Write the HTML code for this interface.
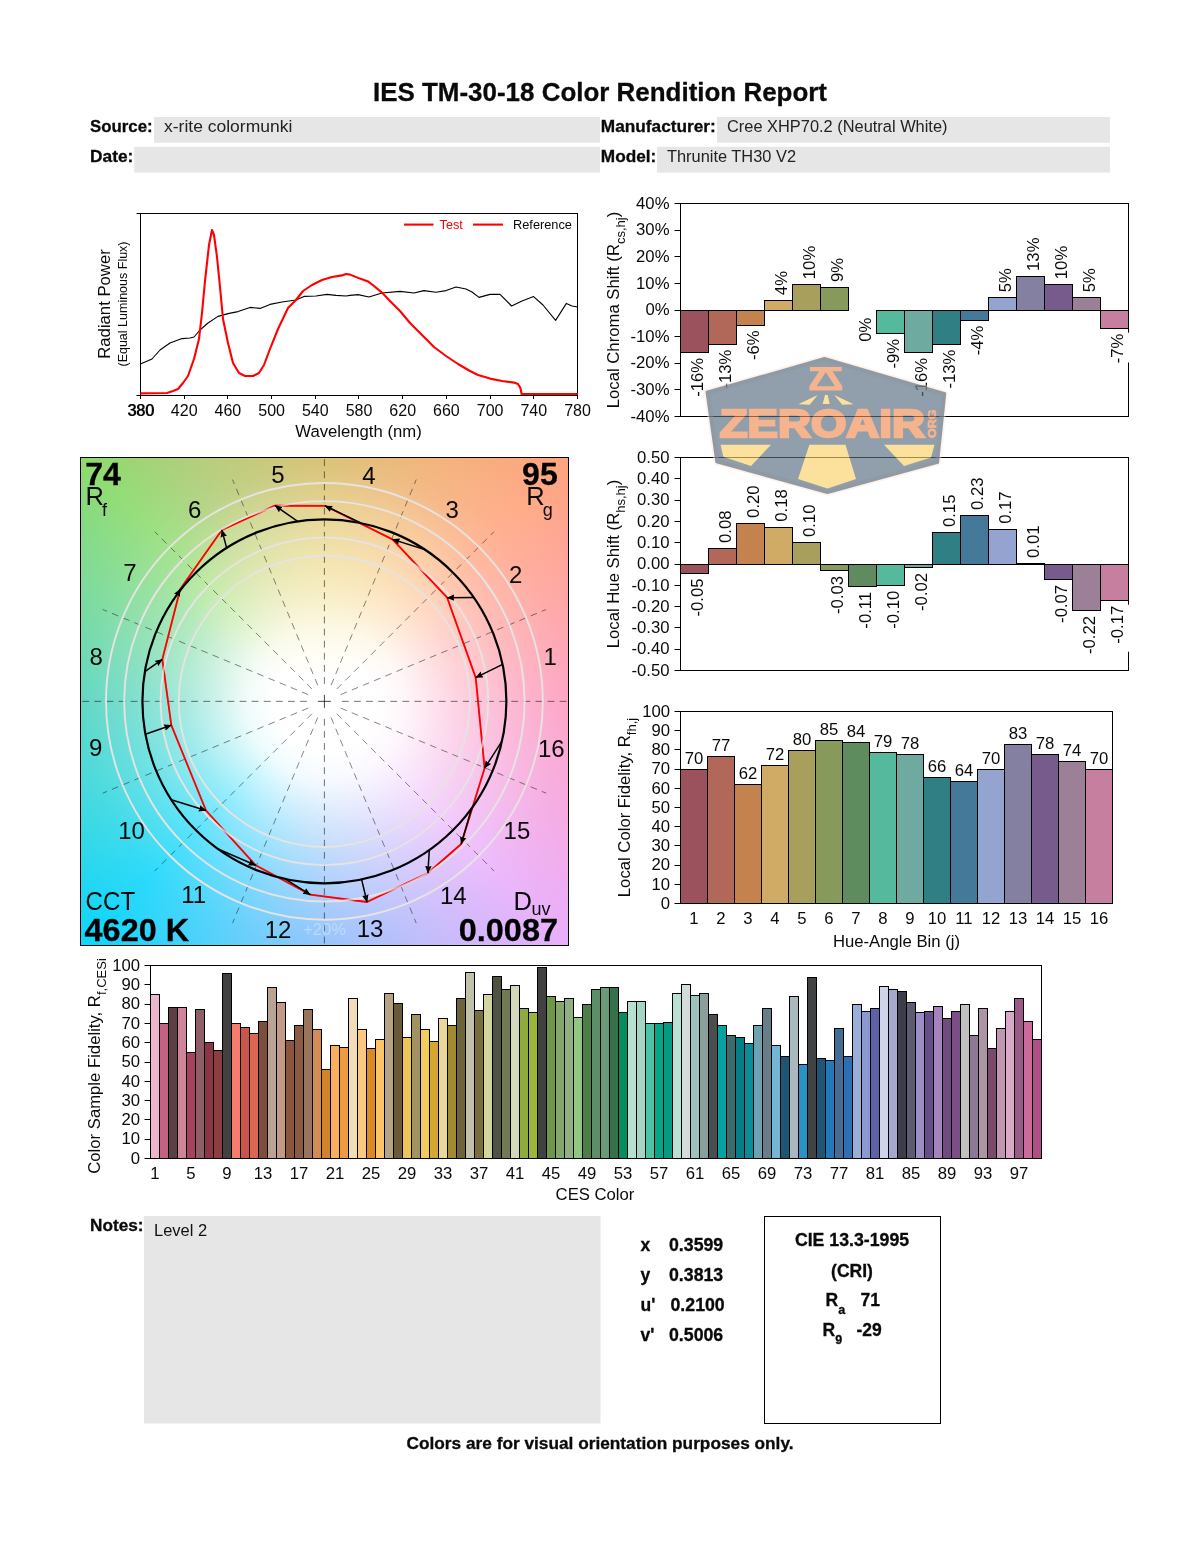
<!DOCTYPE html>
<html lang="en"><head><meta charset="utf-8"><title>IES TM-30-18 Color Rendition Report</title>
<style>html,body{margin:0;padding:0;background:#fff}#page{position:relative;width:1200px;height:1550px;overflow:hidden;background:#fff}
#cvgbg{position:absolute;left:80.5px;top:457.5px;width:488px;height:488px;
background:radial-gradient(ellipse 150px 105px at 50% 24%,rgba(255,242,170,.40) 0%,rgba(255,242,170,.26) 45%,rgba(255,240,160,0) 100%),
radial-gradient(circle 346px at 50% 50%,rgba(255,255,255,1) 0px,rgba(255,255,255,1) 50px,rgba(255,255,255,.92) 78px,rgba(255,255,255,.74) 105px,rgba(255,255,255,.55) 135px,rgba(255,255,255,.38) 168px,rgba(255,255,255,.24) 205px,rgba(255,255,255,.13) 244px,rgba(255,255,255,.04) 300px,rgba(255,255,255,0) 346px),
conic-gradient(from 0deg at 50% 50%,#d6ba63 0deg,#f2ad70 25deg,#ffa57f 45deg,#fe9d9e 68deg,#fd99be 90deg,#f4a3e0 115deg,#e9aefb 135deg,#b9b6fb 158deg,#88bcfa 180deg,#44ccfb 205deg,#0fd5fb 225deg,#2fd5db 248deg,#4bd2bc 270deg,#6dd795 293deg,#8ddb6f 315deg,#a6cd72 328deg,#bcc46c 342deg,#d6ba63 360deg)}
svg{position:absolute;left:0;top:0}svg text{font-family:"Liberation Sans", sans-serif}</style></head><body><div id="page"><div id="cvgbg"></div>
<svg width="1200" height="1550" viewBox="0 0 1200 1550">
<defs><marker id="ah" markerWidth="12" markerHeight="10" refX="7.2" refY="3.3" orient="auto" markerUnits="userSpaceOnUse"><path d="M0,0 L7.6,3.3 L0,6.6 L0.9,3.3 Z" fill="#000"/></marker></defs>
<text x="600.00" y="101.00" font-size="26" text-anchor="middle" font-weight="bold" stroke="#0a0a0a" stroke-width="0.3" textLength="454" lengthAdjust="spacingAndGlyphs" fill="#0a0a0a">IES TM-30-18 Color Rendition Report</text>
<rect x="154.00" y="117.00" width="446.00" height="25.75" fill="#e6e6e6"/>
<rect x="134.30" y="146.80" width="465.70" height="25.75" fill="#e6e6e6"/>
<rect x="717.00" y="117.00" width="393.00" height="25.75" fill="#e6e6e6"/>
<rect x="657.00" y="146.80" width="453.00" height="25.75" fill="#e6e6e6"/>
<text x="90.00" y="132.00" font-size="17.3" font-weight="bold" stroke="#0a0a0a" stroke-width="0.3" textLength="62.7" lengthAdjust="spacingAndGlyphs" fill="#0a0a0a">Source:</text>
<text x="90.00" y="162.00" font-size="17.3" font-weight="bold" stroke="#0a0a0a" stroke-width="0.3" textLength="43.3" lengthAdjust="spacingAndGlyphs" fill="#0a0a0a">Date:</text>
<text x="164.00" y="132.00" font-size="17" textLength="128.3" lengthAdjust="spacingAndGlyphs" fill="#222">x-rite colormunki</text>
<text x="600.80" y="132.00" font-size="17.3" font-weight="bold" stroke="#0a0a0a" stroke-width="0.3" textLength="115" lengthAdjust="spacingAndGlyphs" fill="#0a0a0a">Manufacturer:</text>
<text x="600.80" y="162.00" font-size="17.3" font-weight="bold" stroke="#0a0a0a" stroke-width="0.3" textLength="55.5" lengthAdjust="spacingAndGlyphs" fill="#0a0a0a">Model:</text>
<text x="727.00" y="132.00" font-size="16.8" textLength="220.5" lengthAdjust="spacingAndGlyphs" fill="#222">Cree XHP70.2 (Neutral White)</text>
<text x="667.00" y="162.00" font-size="16.8" textLength="129" lengthAdjust="spacingAndGlyphs" fill="#222">Thrunite TH30 V2</text>
<g id="spectrum">
<rect x="140.50" y="213.50" width="437.00" height="182.00" fill="#fff" stroke="#000" stroke-width="1"/>
<line x1="140.50" y1="395.50" x2="140.50" y2="399.00" stroke="#000" stroke-width="1"/>
<text x="140.50" y="415.60" font-size="16" text-anchor="middle" fill="#0a0a0a">380</text>
<line x1="184.50" y1="395.50" x2="184.50" y2="399.00" stroke="#000" stroke-width="1"/>
<text x="184.20" y="415.60" font-size="16" text-anchor="middle" fill="#0a0a0a">420</text>
<line x1="227.50" y1="395.50" x2="227.50" y2="399.00" stroke="#000" stroke-width="1"/>
<text x="227.90" y="415.60" font-size="16" text-anchor="middle" fill="#0a0a0a">460</text>
<line x1="271.50" y1="395.50" x2="271.50" y2="399.00" stroke="#000" stroke-width="1"/>
<text x="271.60" y="415.60" font-size="16" text-anchor="middle" fill="#0a0a0a">500</text>
<line x1="315.50" y1="395.50" x2="315.50" y2="399.00" stroke="#000" stroke-width="1"/>
<text x="315.30" y="415.60" font-size="16" text-anchor="middle" fill="#0a0a0a">540</text>
<line x1="358.50" y1="395.50" x2="358.50" y2="399.00" stroke="#000" stroke-width="1"/>
<text x="359.00" y="415.60" font-size="16" text-anchor="middle" fill="#0a0a0a">580</text>
<line x1="402.50" y1="395.50" x2="402.50" y2="399.00" stroke="#000" stroke-width="1"/>
<text x="402.70" y="415.60" font-size="16" text-anchor="middle" fill="#0a0a0a">620</text>
<line x1="446.50" y1="395.50" x2="446.50" y2="399.00" stroke="#000" stroke-width="1"/>
<text x="446.40" y="415.60" font-size="16" text-anchor="middle" fill="#0a0a0a">660</text>
<line x1="490.50" y1="395.50" x2="490.50" y2="399.00" stroke="#000" stroke-width="1"/>
<text x="490.10" y="415.60" font-size="16" text-anchor="middle" fill="#0a0a0a">700</text>
<line x1="533.50" y1="395.50" x2="533.50" y2="399.00" stroke="#000" stroke-width="1"/>
<text x="533.80" y="415.60" font-size="16" text-anchor="middle" fill="#0a0a0a">740</text>
<line x1="577.50" y1="395.50" x2="577.50" y2="399.00" stroke="#000" stroke-width="1"/>
<text x="577.50" y="415.60" font-size="16" text-anchor="middle" fill="#0a0a0a">780</text>
<text x="141.30" y="415.60" font-size="16" text-anchor="middle" fill="#0a0a0a">380</text>
<line x1="136.50" y1="213.50" x2="140.50" y2="213.50" stroke="#000" stroke-width="1"/>
<line x1="136.50" y1="395.50" x2="140.50" y2="395.50" stroke="#000" stroke-width="1"/>
<polyline points="140.4,364.0 152.0,359.0 160.0,350.0 170.0,343.0 182.0,338.6 190.0,338.0 194.0,337.0 200.0,330.0 208.0,323.0 218.0,316.4 228.0,313.6 238.0,311.6 250.0,307.4 260.0,308.4 270.0,304.4 282.0,302.0 296.0,300.0 304.0,296.4 316.0,296.0 327.0,294.4 336.0,295.4 346.0,296.0 350.0,295.4 358.0,294.6 369.0,297.0 382.0,293.0 400.0,291.4 414.0,293.0 424.0,290.6 436.0,292.2 446.0,290.6 456.0,287.0 466.0,289.0 472.0,292.0 479.0,297.4 490.0,294.4 500.0,294.4 511.6,306.0 522.0,301.0 533.6,296.6 543.0,305.0 555.6,320.4 566.4,303.4 572.0,306.0 577.6,307.0" fill="none" stroke="#000" stroke-width="1.1" stroke-linejoin="round"/>
<polyline points="140.4,393.4 167.0,393.0 173.0,391.0 178.0,389.0 183.0,383.0 188.0,376.0 194.0,359.0 199.0,339.0 202.0,313.0 205.0,281.0 209.0,245.0 212.0,230.0 214.0,235.0 217.0,257.0 220.0,287.0 223.0,319.0 228.0,343.0 233.0,363.0 239.0,373.0 245.0,376.0 253.0,376.0 259.0,373.0 264.0,365.0 270.0,349.0 278.0,329.0 288.0,308.0 296.0,300.0 303.0,291.0 312.0,285.0 322.0,280.0 332.0,277.0 342.0,275.4 346.0,274.0 350.0,274.6 360.0,278.6 368.0,281.4 374.0,286.0 382.0,292.6 390.0,301.0 400.0,311.0 410.0,323.0 420.0,333.0 434.0,347.0 446.0,356.0 458.0,364.0 470.0,371.0 478.0,375.0 490.0,378.6 502.0,381.0 514.0,382.6 518.0,384.0 520.4,388.0 521.6,394.0 577.6,394.0" fill="none" stroke="#f00" stroke-width="2.1" stroke-linejoin="round"/>
<line x1="404.00" y1="224.60" x2="433.50" y2="224.60" stroke="#f00" stroke-width="2.1"/>
<text x="439.50" y="228.90" font-size="12.1" textLength="23.4" lengthAdjust="spacingAndGlyphs" fill="#f00">Test</text>
<line x1="473.00" y1="224.60" x2="503.00" y2="224.60" stroke="#f00" stroke-width="2.1"/>
<text x="513.00" y="228.90" font-size="12.1" textLength="59" lengthAdjust="spacingAndGlyphs" fill="#0a0a0a">Reference</text>
<text transform="translate(109.60,304.00) rotate(-90)" font-size="16.7" text-anchor="middle" fill="#0a0a0a">Radiant Power</text>
<text transform="translate(127.10,304.00) rotate(-90)" font-size="12.5" text-anchor="middle" fill="#0a0a0a">(Equal Luminous Flux)</text>
<text x="358.50" y="436.60" font-size="16.7" text-anchor="middle" fill="#0a0a0a">Wavelength (nm)</text>
</g>
<g id="chroma">
<rect x="680.50" y="203.50" width="448.00" height="213.00" fill="#fff"/>
<rect x="680.50" y="203.50" width="448.00" height="213.00" fill="none" stroke="#000" stroke-width="1"/>
<rect x="688.00" y="356.83" width="22.50" height="38.40" fill="#fff"/>
<rect x="716.00" y="348.58" width="22.50" height="38.40" fill="#fff"/>
<rect x="744.00" y="329.41" width="22.50" height="29.80" fill="#fff"/>
<rect x="772.00" y="274.45" width="22.50" height="21.20" fill="#fff"/>
<rect x="800.00" y="249.87" width="22.50" height="29.80" fill="#fff"/>
<rect x="828.00" y="261.40" width="22.50" height="21.20" fill="#fff"/>
<rect x="856.00" y="314.50" width="22.50" height="21.20" fill="#fff"/>
<rect x="884.00" y="337.93" width="22.50" height="29.80" fill="#fff"/>
<rect x="912.00" y="356.83" width="22.50" height="38.40" fill="#fff"/>
<rect x="940.00" y="348.58" width="22.50" height="38.40" fill="#fff"/>
<rect x="968.00" y="324.62" width="22.50" height="29.80" fill="#fff"/>
<rect x="996.00" y="271.52" width="22.50" height="21.20" fill="#fff"/>
<rect x="1024.00" y="241.62" width="22.50" height="29.80" fill="#fff"/>
<rect x="1052.00" y="249.87" width="22.50" height="29.80" fill="#fff"/>
<rect x="1080.00" y="271.52" width="22.50" height="21.20" fill="#fff"/>
<rect x="1108.00" y="332.61" width="22.50" height="29.80" fill="#fff"/>
<rect x="680.50" y="310.50" width="28.00" height="42.00" fill="#9b525c" stroke="#000" stroke-width="1"/>
<rect x="708.50" y="310.50" width="28.00" height="34.00" fill="#b26858" stroke="#000" stroke-width="1"/>
<rect x="736.50" y="310.50" width="28.00" height="15.00" fill="#c4834e" stroke="#000" stroke-width="1"/>
<rect x="764.50" y="300.50" width="28.00" height="10.00" fill="#cfab66" stroke="#000" stroke-width="1"/>
<rect x="792.50" y="284.50" width="28.00" height="26.00" fill="#a89f5c" stroke="#000" stroke-width="1"/>
<rect x="820.50" y="287.50" width="28.00" height="23.00" fill="#879a5b" stroke="#000" stroke-width="1"/>
<rect x="876.50" y="310.50" width="28.00" height="23.00" fill="#55b99d" stroke="#000" stroke-width="1"/>
<rect x="904.50" y="310.50" width="28.00" height="42.00" fill="#6faaa0" stroke="#000" stroke-width="1"/>
<rect x="932.50" y="310.50" width="28.00" height="34.00" fill="#2f7f84" stroke="#000" stroke-width="1"/>
<rect x="960.50" y="310.50" width="28.00" height="10.00" fill="#44799a" stroke="#000" stroke-width="1"/>
<rect x="988.50" y="297.50" width="28.00" height="13.00" fill="#94a3cf" stroke="#000" stroke-width="1"/>
<rect x="1016.50" y="276.50" width="28.00" height="34.00" fill="#8480a2" stroke="#000" stroke-width="1"/>
<rect x="1044.50" y="284.50" width="28.00" height="26.00" fill="#775b8c" stroke="#000" stroke-width="1"/>
<rect x="1072.50" y="297.50" width="28.00" height="13.00" fill="#9b8097" stroke="#000" stroke-width="1"/>
<rect x="1100.50" y="310.50" width="28.00" height="18.00" fill="#c67f9e" stroke="#000" stroke-width="1"/>
<line x1="674.50" y1="203.50" x2="680.50" y2="203.50" stroke="#000" stroke-width="1"/>
<text x="669.50" y="208.70" font-size="16.7" text-anchor="end" fill="#0a0a0a">40%</text>
<line x1="674.50" y1="230.50" x2="680.50" y2="230.50" stroke="#000" stroke-width="1"/>
<text x="669.50" y="235.32" font-size="16.7" text-anchor="end" fill="#0a0a0a">30%</text>
<line x1="674.50" y1="256.50" x2="680.50" y2="256.50" stroke="#000" stroke-width="1"/>
<text x="669.50" y="261.95" font-size="16.7" text-anchor="end" fill="#0a0a0a">20%</text>
<line x1="674.50" y1="283.50" x2="680.50" y2="283.50" stroke="#000" stroke-width="1"/>
<text x="669.50" y="288.57" font-size="16.7" text-anchor="end" fill="#0a0a0a">10%</text>
<line x1="674.50" y1="310.50" x2="680.50" y2="310.50" stroke="#000" stroke-width="1"/>
<text x="669.50" y="315.20" font-size="16.7" text-anchor="end" fill="#0a0a0a">0%</text>
<line x1="674.50" y1="336.50" x2="680.50" y2="336.50" stroke="#000" stroke-width="1"/>
<text x="669.50" y="341.82" font-size="16.7" text-anchor="end" fill="#0a0a0a">-10%</text>
<line x1="674.50" y1="363.50" x2="680.50" y2="363.50" stroke="#000" stroke-width="1"/>
<text x="669.50" y="368.45" font-size="16.7" text-anchor="end" fill="#0a0a0a">-20%</text>
<line x1="674.50" y1="389.50" x2="680.50" y2="389.50" stroke="#000" stroke-width="1"/>
<text x="669.50" y="395.07" font-size="16.7" text-anchor="end" fill="#0a0a0a">-30%</text>
<line x1="674.50" y1="416.50" x2="680.50" y2="416.50" stroke="#000" stroke-width="1"/>
<text x="669.50" y="421.70" font-size="16.7" text-anchor="end" fill="#0a0a0a">-40%</text>
<text transform="translate(703.25,357.83) rotate(-90)" font-size="16.7" text-anchor="end" fill="#0a0a0a">-16%</text>
<text transform="translate(731.25,349.58) rotate(-90)" font-size="16.7" text-anchor="end" fill="#0a0a0a">-13%</text>
<text transform="translate(759.25,330.41) rotate(-90)" font-size="16.7" text-anchor="end" fill="#0a0a0a">-6%</text>
<text transform="translate(787.25,295.15) rotate(-90)" font-size="16.7" fill="#0a0a0a">4%</text>
<text transform="translate(815.25,279.17) rotate(-90)" font-size="16.7" fill="#0a0a0a">10%</text>
<text transform="translate(843.25,282.10) rotate(-90)" font-size="16.7" fill="#0a0a0a">9%</text>
<text transform="translate(871.25,317.70) rotate(-90)" font-size="16.7" text-anchor="end" fill="#0a0a0a">0%</text>
<text transform="translate(899.25,338.93) rotate(-90)" font-size="16.7" text-anchor="end" fill="#0a0a0a">-9%</text>
<text transform="translate(927.25,357.83) rotate(-90)" font-size="16.7" text-anchor="end" fill="#0a0a0a">-16%</text>
<text transform="translate(955.25,349.58) rotate(-90)" font-size="16.7" text-anchor="end" fill="#0a0a0a">-13%</text>
<text transform="translate(983.25,325.62) rotate(-90)" font-size="16.7" text-anchor="end" fill="#0a0a0a">-4%</text>
<text transform="translate(1011.25,292.22) rotate(-90)" font-size="16.7" fill="#0a0a0a">5%</text>
<text transform="translate(1039.25,270.92) rotate(-90)" font-size="16.7" fill="#0a0a0a">13%</text>
<text transform="translate(1067.25,279.17) rotate(-90)" font-size="16.7" fill="#0a0a0a">10%</text>
<text transform="translate(1095.25,292.22) rotate(-90)" font-size="16.7" fill="#0a0a0a">5%</text>
<text transform="translate(1123.25,333.61) rotate(-90)" font-size="16.7" text-anchor="end" fill="#0a0a0a">-7%</text>
<text transform="translate(618.70,310.00) rotate(-90)" font-size="16.7" text-anchor="middle" fill="#0a0a0a">Local Chroma Shift (R<tspan font-size="13" dy="6.3">cs,hj</tspan><tspan dy="-6.3">)</tspan></text>
</g>
<g id="hueshift">
<rect x="680.50" y="457.50" width="448.00" height="213.00" fill="#fff"/>
<rect x="680.50" y="457.50" width="448.00" height="213.00" fill="none" stroke="#000" stroke-width="1"/>
<rect x="688.00" y="577.45" width="22.50" height="47.00" fill="#fff"/>
<rect x="716.00" y="505.12" width="22.50" height="38.40" fill="#fff"/>
<rect x="744.00" y="479.99" width="22.50" height="38.40" fill="#fff"/>
<rect x="772.00" y="483.83" width="22.50" height="38.40" fill="#fff"/>
<rect x="800.00" y="499.16" width="22.50" height="38.40" fill="#fff"/>
<rect x="828.00" y="574.89" width="22.50" height="47.00" fill="#fff"/>
<rect x="856.00" y="590.87" width="22.50" height="47.00" fill="#fff"/>
<rect x="884.00" y="589.80" width="22.50" height="47.00" fill="#fff"/>
<rect x="912.00" y="571.91" width="22.50" height="47.00" fill="#fff"/>
<rect x="940.00" y="489.15" width="22.50" height="38.40" fill="#fff"/>
<rect x="968.00" y="472.11" width="22.50" height="38.40" fill="#fff"/>
<rect x="996.00" y="485.96" width="22.50" height="38.40" fill="#fff"/>
<rect x="1024.00" y="520.03" width="22.50" height="38.40" fill="#fff"/>
<rect x="1052.00" y="583.84" width="22.50" height="47.00" fill="#fff"/>
<rect x="1080.00" y="614.93" width="22.50" height="47.00" fill="#fff"/>
<rect x="1108.00" y="604.71" width="22.50" height="47.00" fill="#fff"/>
<rect x="680.50" y="564.50" width="28.00" height="9.00" fill="#9b525c" stroke="#000" stroke-width="1"/>
<rect x="708.50" y="548.50" width="28.00" height="16.00" fill="#b26858" stroke="#000" stroke-width="1"/>
<rect x="736.50" y="523.50" width="28.00" height="41.00" fill="#c4834e" stroke="#000" stroke-width="1"/>
<rect x="764.50" y="527.50" width="28.00" height="37.00" fill="#cfab66" stroke="#000" stroke-width="1"/>
<rect x="792.50" y="542.50" width="28.00" height="22.00" fill="#a89f5c" stroke="#000" stroke-width="1"/>
<rect x="820.50" y="564.50" width="28.00" height="6.00" fill="#879a5b" stroke="#000" stroke-width="1"/>
<rect x="848.50" y="564.50" width="28.00" height="22.00" fill="#5f8c5f" stroke="#000" stroke-width="1"/>
<rect x="876.50" y="564.50" width="28.00" height="21.00" fill="#55b99d" stroke="#000" stroke-width="1"/>
<rect x="904.50" y="564.50" width="28.00" height="3.00" fill="#6faaa0" stroke="#000" stroke-width="1"/>
<rect x="932.50" y="532.50" width="28.00" height="32.00" fill="#2f7f84" stroke="#000" stroke-width="1"/>
<rect x="960.50" y="515.50" width="28.00" height="49.00" fill="#44799a" stroke="#000" stroke-width="1"/>
<rect x="988.50" y="529.50" width="28.00" height="35.00" fill="#94a3cf" stroke="#000" stroke-width="1"/>
<rect x="1016.50" y="563.50" width="28.00" height="1.00" fill="#8480a2" stroke="#000" stroke-width="1"/>
<rect x="1044.50" y="564.50" width="28.00" height="15.00" fill="#775b8c" stroke="#000" stroke-width="1"/>
<rect x="1072.50" y="564.50" width="28.00" height="46.00" fill="#9b8097" stroke="#000" stroke-width="1"/>
<rect x="1100.50" y="564.50" width="28.00" height="36.00" fill="#c67f9e" stroke="#000" stroke-width="1"/>
<line x1="674.50" y1="457.50" x2="680.50" y2="457.50" stroke="#000" stroke-width="1"/>
<text x="669.50" y="462.70" font-size="16.7" text-anchor="end" fill="#0a0a0a">0.50</text>
<line x1="674.50" y1="478.50" x2="680.50" y2="478.50" stroke="#000" stroke-width="1"/>
<text x="669.50" y="484.00" font-size="16.7" text-anchor="end" fill="#0a0a0a">0.40</text>
<line x1="674.50" y1="500.50" x2="680.50" y2="500.50" stroke="#000" stroke-width="1"/>
<text x="669.50" y="505.30" font-size="16.7" text-anchor="end" fill="#0a0a0a">0.30</text>
<line x1="674.50" y1="521.50" x2="680.50" y2="521.50" stroke="#000" stroke-width="1"/>
<text x="669.50" y="526.60" font-size="16.7" text-anchor="end" fill="#0a0a0a">0.20</text>
<line x1="674.50" y1="542.50" x2="680.50" y2="542.50" stroke="#000" stroke-width="1"/>
<text x="669.50" y="547.90" font-size="16.7" text-anchor="end" fill="#0a0a0a">0.10</text>
<line x1="674.50" y1="564.50" x2="680.50" y2="564.50" stroke="#000" stroke-width="1"/>
<text x="669.50" y="569.20" font-size="16.7" text-anchor="end" fill="#0a0a0a">0.00</text>
<line x1="674.50" y1="585.50" x2="680.50" y2="585.50" stroke="#000" stroke-width="1"/>
<text x="669.50" y="590.50" font-size="16.7" text-anchor="end" fill="#0a0a0a">-0.10</text>
<line x1="674.50" y1="606.50" x2="680.50" y2="606.50" stroke="#000" stroke-width="1"/>
<text x="669.50" y="611.80" font-size="16.7" text-anchor="end" fill="#0a0a0a">-0.20</text>
<line x1="674.50" y1="627.50" x2="680.50" y2="627.50" stroke="#000" stroke-width="1"/>
<text x="669.50" y="633.10" font-size="16.7" text-anchor="end" fill="#0a0a0a">-0.30</text>
<line x1="674.50" y1="649.50" x2="680.50" y2="649.50" stroke="#000" stroke-width="1"/>
<text x="669.50" y="654.40" font-size="16.7" text-anchor="end" fill="#0a0a0a">-0.40</text>
<line x1="674.50" y1="670.50" x2="680.50" y2="670.50" stroke="#000" stroke-width="1"/>
<text x="669.50" y="675.70" font-size="16.7" text-anchor="end" fill="#0a0a0a">-0.50</text>
<text transform="translate(703.25,578.45) rotate(-90)" font-size="16.7" text-anchor="end" fill="#0a0a0a">-0.05</text>
<text transform="translate(731.25,543.02) rotate(-90)" font-size="16.7" fill="#0a0a0a">0.08</text>
<text transform="translate(759.25,517.89) rotate(-90)" font-size="16.7" fill="#0a0a0a">0.20</text>
<text transform="translate(787.25,521.73) rotate(-90)" font-size="16.7" fill="#0a0a0a">0.18</text>
<text transform="translate(815.25,537.06) rotate(-90)" font-size="16.7" fill="#0a0a0a">0.10</text>
<text transform="translate(843.25,575.89) rotate(-90)" font-size="16.7" text-anchor="end" fill="#0a0a0a">-0.03</text>
<text transform="translate(871.25,591.87) rotate(-90)" font-size="16.7" text-anchor="end" fill="#0a0a0a">-0.11</text>
<text transform="translate(899.25,590.80) rotate(-90)" font-size="16.7" text-anchor="end" fill="#0a0a0a">-0.10</text>
<text transform="translate(927.25,572.91) rotate(-90)" font-size="16.7" text-anchor="end" fill="#0a0a0a">-0.02</text>
<text transform="translate(955.25,527.05) rotate(-90)" font-size="16.7" fill="#0a0a0a">0.15</text>
<text transform="translate(983.25,510.01) rotate(-90)" font-size="16.7" fill="#0a0a0a">0.23</text>
<text transform="translate(1011.25,523.86) rotate(-90)" font-size="16.7" fill="#0a0a0a">0.17</text>
<text transform="translate(1039.25,557.93) rotate(-90)" font-size="16.7" fill="#0a0a0a">0.01</text>
<text transform="translate(1067.25,584.84) rotate(-90)" font-size="16.7" text-anchor="end" fill="#0a0a0a">-0.07</text>
<text transform="translate(1095.25,615.93) rotate(-90)" font-size="16.7" text-anchor="end" fill="#0a0a0a">-0.22</text>
<text transform="translate(1123.25,605.71) rotate(-90)" font-size="16.7" text-anchor="end" fill="#0a0a0a">-0.17</text>
<text transform="translate(618.70,564.00) rotate(-90)" font-size="16.7" text-anchor="middle" fill="#0a0a0a">Local Hue Shift (R<tspan font-size="13" dy="6.3">hs,hj</tspan><tspan dy="-6.3">)</tspan></text>
</g>
<g id="fid">
<rect x="680.50" y="769.50" width="27.00" height="134.00" fill="#9b525c" stroke="#000" stroke-width="1"/>
<text x="694.00" y="764.00" font-size="16.7" text-anchor="middle" fill="#0a0a0a">70</text>
<text x="694.00" y="924.20" font-size="16.7" text-anchor="middle" fill="#0a0a0a">1</text>
<rect x="707.50" y="756.50" width="27.00" height="147.00" fill="#b26858" stroke="#000" stroke-width="1"/>
<text x="721.00" y="751.00" font-size="16.7" text-anchor="middle" fill="#0a0a0a">77</text>
<text x="721.00" y="924.20" font-size="16.7" text-anchor="middle" fill="#0a0a0a">2</text>
<rect x="734.50" y="784.50" width="27.00" height="119.00" fill="#c4834e" stroke="#000" stroke-width="1"/>
<text x="748.00" y="779.00" font-size="16.7" text-anchor="middle" fill="#0a0a0a">62</text>
<text x="748.00" y="924.20" font-size="16.7" text-anchor="middle" fill="#0a0a0a">3</text>
<rect x="761.50" y="765.50" width="27.00" height="138.00" fill="#cfab66" stroke="#000" stroke-width="1"/>
<text x="775.00" y="760.00" font-size="16.7" text-anchor="middle" fill="#0a0a0a">72</text>
<text x="775.00" y="924.20" font-size="16.7" text-anchor="middle" fill="#0a0a0a">4</text>
<rect x="788.50" y="750.50" width="27.00" height="153.00" fill="#a89f5c" stroke="#000" stroke-width="1"/>
<text x="802.00" y="745.00" font-size="16.7" text-anchor="middle" fill="#0a0a0a">80</text>
<text x="802.00" y="924.20" font-size="16.7" text-anchor="middle" fill="#0a0a0a">5</text>
<rect x="815.50" y="740.50" width="27.00" height="163.00" fill="#879a5b" stroke="#000" stroke-width="1"/>
<text x="829.00" y="735.00" font-size="16.7" text-anchor="middle" fill="#0a0a0a">85</text>
<text x="829.00" y="924.20" font-size="16.7" text-anchor="middle" fill="#0a0a0a">6</text>
<rect x="842.50" y="742.50" width="27.00" height="161.00" fill="#5f8c5f" stroke="#000" stroke-width="1"/>
<text x="856.00" y="737.00" font-size="16.7" text-anchor="middle" fill="#0a0a0a">84</text>
<text x="856.00" y="924.20" font-size="16.7" text-anchor="middle" fill="#0a0a0a">7</text>
<rect x="869.50" y="752.50" width="27.00" height="151.00" fill="#55b99d" stroke="#000" stroke-width="1"/>
<text x="883.00" y="747.00" font-size="16.7" text-anchor="middle" fill="#0a0a0a">79</text>
<text x="883.00" y="924.20" font-size="16.7" text-anchor="middle" fill="#0a0a0a">8</text>
<rect x="896.50" y="754.50" width="27.00" height="149.00" fill="#6faaa0" stroke="#000" stroke-width="1"/>
<text x="910.00" y="749.00" font-size="16.7" text-anchor="middle" fill="#0a0a0a">78</text>
<text x="910.00" y="924.20" font-size="16.7" text-anchor="middle" fill="#0a0a0a">9</text>
<rect x="923.50" y="777.50" width="27.00" height="126.00" fill="#2f7f84" stroke="#000" stroke-width="1"/>
<text x="937.00" y="772.00" font-size="16.7" text-anchor="middle" fill="#0a0a0a">66</text>
<text x="937.00" y="924.20" font-size="16.7" text-anchor="middle" fill="#0a0a0a">10</text>
<rect x="950.50" y="781.50" width="27.00" height="122.00" fill="#44799a" stroke="#000" stroke-width="1"/>
<text x="964.00" y="776.00" font-size="16.7" text-anchor="middle" fill="#0a0a0a">64</text>
<text x="964.00" y="924.20" font-size="16.7" text-anchor="middle" fill="#0a0a0a">11</text>
<rect x="977.50" y="769.50" width="27.00" height="134.00" fill="#94a3cf" stroke="#000" stroke-width="1"/>
<text x="991.00" y="764.00" font-size="16.7" text-anchor="middle" fill="#0a0a0a">70</text>
<text x="991.00" y="924.20" font-size="16.7" text-anchor="middle" fill="#0a0a0a">12</text>
<rect x="1004.50" y="744.50" width="27.00" height="159.00" fill="#8480a2" stroke="#000" stroke-width="1"/>
<text x="1018.00" y="739.00" font-size="16.7" text-anchor="middle" fill="#0a0a0a">83</text>
<text x="1018.00" y="924.20" font-size="16.7" text-anchor="middle" fill="#0a0a0a">13</text>
<rect x="1031.50" y="754.50" width="27.00" height="149.00" fill="#775b8c" stroke="#000" stroke-width="1"/>
<text x="1045.00" y="749.00" font-size="16.7" text-anchor="middle" fill="#0a0a0a">78</text>
<text x="1045.00" y="924.20" font-size="16.7" text-anchor="middle" fill="#0a0a0a">14</text>
<rect x="1058.50" y="761.50" width="27.00" height="142.00" fill="#9b8097" stroke="#000" stroke-width="1"/>
<text x="1072.00" y="756.00" font-size="16.7" text-anchor="middle" fill="#0a0a0a">74</text>
<text x="1072.00" y="924.20" font-size="16.7" text-anchor="middle" fill="#0a0a0a">15</text>
<rect x="1085.50" y="769.50" width="27.00" height="134.00" fill="#c67f9e" stroke="#000" stroke-width="1"/>
<text x="1099.00" y="764.00" font-size="16.7" text-anchor="middle" fill="#0a0a0a">70</text>
<text x="1099.00" y="924.20" font-size="16.7" text-anchor="middle" fill="#0a0a0a">16</text>
<rect x="680.50" y="711.50" width="432.00" height="192.00" fill="none" stroke="#000" stroke-width="1"/>
<line x1="674.50" y1="903.50" x2="680.50" y2="903.50" stroke="#000" stroke-width="1"/>
<text x="670.00" y="908.70" font-size="16.7" text-anchor="end" fill="#0a0a0a">0</text>
<line x1="674.50" y1="884.50" x2="680.50" y2="884.50" stroke="#000" stroke-width="1"/>
<text x="670.00" y="889.50" font-size="16.7" text-anchor="end" fill="#0a0a0a">10</text>
<line x1="674.50" y1="865.50" x2="680.50" y2="865.50" stroke="#000" stroke-width="1"/>
<text x="670.00" y="870.30" font-size="16.7" text-anchor="end" fill="#0a0a0a">20</text>
<line x1="674.50" y1="845.50" x2="680.50" y2="845.50" stroke="#000" stroke-width="1"/>
<text x="670.00" y="851.10" font-size="16.7" text-anchor="end" fill="#0a0a0a">30</text>
<line x1="674.50" y1="826.50" x2="680.50" y2="826.50" stroke="#000" stroke-width="1"/>
<text x="670.00" y="831.90" font-size="16.7" text-anchor="end" fill="#0a0a0a">40</text>
<line x1="674.50" y1="807.50" x2="680.50" y2="807.50" stroke="#000" stroke-width="1"/>
<text x="670.00" y="812.70" font-size="16.7" text-anchor="end" fill="#0a0a0a">50</text>
<line x1="674.50" y1="788.50" x2="680.50" y2="788.50" stroke="#000" stroke-width="1"/>
<text x="670.00" y="793.50" font-size="16.7" text-anchor="end" fill="#0a0a0a">60</text>
<line x1="674.50" y1="769.50" x2="680.50" y2="769.50" stroke="#000" stroke-width="1"/>
<text x="670.00" y="774.30" font-size="16.7" text-anchor="end" fill="#0a0a0a">70</text>
<line x1="674.50" y1="749.50" x2="680.50" y2="749.50" stroke="#000" stroke-width="1"/>
<text x="670.00" y="755.10" font-size="16.7" text-anchor="end" fill="#0a0a0a">80</text>
<line x1="674.50" y1="730.50" x2="680.50" y2="730.50" stroke="#000" stroke-width="1"/>
<text x="670.00" y="735.90" font-size="16.7" text-anchor="end" fill="#0a0a0a">90</text>
<line x1="674.50" y1="711.50" x2="680.50" y2="711.50" stroke="#000" stroke-width="1"/>
<text x="670.00" y="716.70" font-size="16.7" text-anchor="end" fill="#0a0a0a">100</text>
<text transform="translate(630.00,807.50) rotate(-90)" font-size="16.7" text-anchor="middle" fill="#0a0a0a">Local Color Fidelity, R<tspan font-size="13" dy="6.3">fh,j</tspan></text>
<text x="896.50" y="946.50" font-size="16.7" text-anchor="middle" fill="#0a0a0a">Hue-Angle Bin (j)</text>
</g>
<g id="ces">
<rect x="150.50" y="994.50" width="9.00" height="164.00" fill="#ebb5cc" stroke="#000" stroke-width="1"/>
<text x="155.00" y="1178.70" font-size="16.7" text-anchor="middle" fill="#0a0a0a">1</text>
<rect x="159.50" y="1023.50" width="9.00" height="135.00" fill="#c46283" stroke="#000" stroke-width="1"/>
<rect x="168.50" y="1007.50" width="9.00" height="151.00" fill="#5b3f44" stroke="#000" stroke-width="1"/>
<rect x="177.50" y="1007.50" width="9.00" height="151.00" fill="#d0849a" stroke="#000" stroke-width="1"/>
<rect x="186.50" y="1052.50" width="9.00" height="106.00" fill="#a8425e" stroke="#000" stroke-width="1"/>
<text x="191.00" y="1178.70" font-size="16.7" text-anchor="middle" fill="#0a0a0a">5</text>
<rect x="195.50" y="1009.50" width="9.00" height="149.00" fill="#8f5f68" stroke="#000" stroke-width="1"/>
<rect x="204.50" y="1042.50" width="9.00" height="116.00" fill="#8c3545" stroke="#000" stroke-width="1"/>
<rect x="213.50" y="1050.50" width="9.00" height="108.00" fill="#8b3d42" stroke="#000" stroke-width="1"/>
<rect x="222.50" y="973.50" width="9.00" height="185.00" fill="#414141" stroke="#000" stroke-width="1"/>
<text x="227.00" y="1178.70" font-size="16.7" text-anchor="middle" fill="#0a0a0a">9</text>
<rect x="231.50" y="1023.50" width="9.00" height="135.00" fill="#f47d70" stroke="#000" stroke-width="1"/>
<rect x="240.50" y="1027.50" width="9.00" height="131.00" fill="#c9564a" stroke="#000" stroke-width="1"/>
<rect x="249.50" y="1033.50" width="9.00" height="125.00" fill="#dd6650" stroke="#000" stroke-width="1"/>
<rect x="258.50" y="1021.50" width="9.00" height="137.00" fill="#7e4e3c" stroke="#000" stroke-width="1"/>
<text x="263.00" y="1178.70" font-size="16.7" text-anchor="middle" fill="#0a0a0a">13</text>
<rect x="267.50" y="987.50" width="9.00" height="171.00" fill="#b9a394" stroke="#000" stroke-width="1"/>
<rect x="276.50" y="1002.50" width="9.00" height="156.00" fill="#c49a85" stroke="#000" stroke-width="1"/>
<rect x="285.50" y="1040.50" width="9.00" height="118.00" fill="#8c563c" stroke="#000" stroke-width="1"/>
<rect x="294.50" y="1025.50" width="9.00" height="133.00" fill="#8b5b41" stroke="#000" stroke-width="1"/>
<text x="299.00" y="1178.70" font-size="16.7" text-anchor="middle" fill="#0a0a0a">17</text>
<rect x="303.50" y="1009.50" width="9.00" height="149.00" fill="#9b745c" stroke="#000" stroke-width="1"/>
<rect x="312.50" y="1029.50" width="9.00" height="129.00" fill="#d58c54" stroke="#000" stroke-width="1"/>
<rect x="321.50" y="1069.50" width="9.00" height="89.00" fill="#cf832b" stroke="#000" stroke-width="1"/>
<rect x="330.50" y="1045.50" width="9.00" height="113.00" fill="#fbae5e" stroke="#000" stroke-width="1"/>
<text x="335.00" y="1178.70" font-size="16.7" text-anchor="middle" fill="#0a0a0a">21</text>
<rect x="339.50" y="1047.50" width="9.00" height="111.00" fill="#ee9c43" stroke="#000" stroke-width="1"/>
<rect x="348.50" y="998.50" width="9.00" height="160.00" fill="#f3dcb8" stroke="#000" stroke-width="1"/>
<rect x="357.50" y="1029.50" width="9.00" height="129.00" fill="#fdc980" stroke="#000" stroke-width="1"/>
<rect x="366.50" y="1048.50" width="9.00" height="110.00" fill="#d98a25" stroke="#000" stroke-width="1"/>
<text x="371.00" y="1178.70" font-size="16.7" text-anchor="middle" fill="#0a0a0a">25</text>
<rect x="375.50" y="1039.50" width="9.00" height="119.00" fill="#fdc468" stroke="#000" stroke-width="1"/>
<rect x="384.50" y="993.50" width="9.00" height="165.00" fill="#b5a481" stroke="#000" stroke-width="1"/>
<rect x="393.50" y="1003.50" width="9.00" height="155.00" fill="#6b5a3a" stroke="#000" stroke-width="1"/>
<rect x="402.50" y="1037.50" width="9.00" height="121.00" fill="#efc558" stroke="#000" stroke-width="1"/>
<text x="407.00" y="1178.70" font-size="16.7" text-anchor="middle" fill="#0a0a0a">29</text>
<rect x="411.50" y="1014.50" width="9.00" height="144.00" fill="#a39261" stroke="#000" stroke-width="1"/>
<rect x="420.50" y="1029.50" width="9.00" height="129.00" fill="#f1cd5f" stroke="#000" stroke-width="1"/>
<rect x="429.50" y="1041.50" width="9.00" height="117.00" fill="#d3a731" stroke="#000" stroke-width="1"/>
<rect x="438.50" y="1018.50" width="9.00" height="140.00" fill="#e8d798" stroke="#000" stroke-width="1"/>
<text x="443.00" y="1178.70" font-size="16.7" text-anchor="middle" fill="#0a0a0a">33</text>
<rect x="447.50" y="1025.50" width="9.00" height="133.00" fill="#a28a2e" stroke="#000" stroke-width="1"/>
<rect x="456.50" y="998.50" width="9.00" height="160.00" fill="#6d6239" stroke="#000" stroke-width="1"/>
<rect x="465.50" y="972.50" width="9.00" height="186.00" fill="#c2c2ab" stroke="#000" stroke-width="1"/>
<rect x="474.50" y="1010.50" width="9.00" height="148.00" fill="#7a6f3c" stroke="#000" stroke-width="1"/>
<text x="479.00" y="1178.70" font-size="16.7" text-anchor="middle" fill="#0a0a0a">37</text>
<rect x="483.50" y="994.50" width="9.00" height="164.00" fill="#d3d59f" stroke="#000" stroke-width="1"/>
<rect x="492.50" y="976.50" width="9.00" height="182.00" fill="#4f5241" stroke="#000" stroke-width="1"/>
<rect x="501.50" y="989.50" width="9.00" height="169.00" fill="#717a53" stroke="#000" stroke-width="1"/>
<rect x="510.50" y="985.50" width="9.00" height="173.00" fill="#d3d8bd" stroke="#000" stroke-width="1"/>
<text x="515.00" y="1178.70" font-size="16.7" text-anchor="middle" fill="#0a0a0a">41</text>
<rect x="519.50" y="1008.50" width="9.00" height="150.00" fill="#90ab3d" stroke="#000" stroke-width="1"/>
<rect x="528.50" y="1012.50" width="9.00" height="146.00" fill="#9bb638" stroke="#000" stroke-width="1"/>
<rect x="537.50" y="967.50" width="9.00" height="191.00" fill="#414141" stroke="#000" stroke-width="1"/>
<rect x="546.50" y="996.50" width="9.00" height="162.00" fill="#6e9748" stroke="#000" stroke-width="1"/>
<text x="551.00" y="1178.70" font-size="16.7" text-anchor="middle" fill="#0a0a0a">45</text>
<rect x="555.50" y="1001.50" width="9.00" height="157.00" fill="#84a86b" stroke="#000" stroke-width="1"/>
<rect x="564.50" y="998.50" width="9.00" height="160.00" fill="#90b083" stroke="#000" stroke-width="1"/>
<rect x="573.50" y="1017.50" width="9.00" height="141.00" fill="#90c883" stroke="#000" stroke-width="1"/>
<rect x="582.50" y="1004.50" width="9.00" height="154.00" fill="#4c7f47" stroke="#000" stroke-width="1"/>
<text x="587.00" y="1178.70" font-size="16.7" text-anchor="middle" fill="#0a0a0a">49</text>
<rect x="591.50" y="989.50" width="9.00" height="169.00" fill="#5a8f68" stroke="#000" stroke-width="1"/>
<rect x="600.50" y="987.50" width="9.00" height="171.00" fill="#6a9a78" stroke="#000" stroke-width="1"/>
<rect x="609.50" y="987.50" width="9.00" height="171.00" fill="#35714a" stroke="#000" stroke-width="1"/>
<rect x="618.50" y="1012.50" width="9.00" height="146.00" fill="#068d5f" stroke="#000" stroke-width="1"/>
<text x="623.00" y="1178.70" font-size="16.7" text-anchor="middle" fill="#0a0a0a">53</text>
<rect x="627.50" y="1001.50" width="9.00" height="157.00" fill="#b6e0cf" stroke="#000" stroke-width="1"/>
<rect x="636.50" y="1001.50" width="9.00" height="157.00" fill="#a6d5c3" stroke="#000" stroke-width="1"/>
<rect x="645.50" y="1023.50" width="9.00" height="135.00" fill="#4cc3a7" stroke="#000" stroke-width="1"/>
<rect x="654.50" y="1023.50" width="9.00" height="135.00" fill="#05a585" stroke="#000" stroke-width="1"/>
<text x="659.00" y="1178.70" font-size="16.7" text-anchor="middle" fill="#0a0a0a">57</text>
<rect x="663.50" y="1022.50" width="9.00" height="136.00" fill="#079a82" stroke="#000" stroke-width="1"/>
<rect x="672.50" y="993.50" width="9.00" height="165.00" fill="#b8e0d3" stroke="#000" stroke-width="1"/>
<rect x="681.50" y="984.50" width="9.00" height="174.00" fill="#d3dcd8" stroke="#000" stroke-width="1"/>
<rect x="690.50" y="995.50" width="9.00" height="163.00" fill="#9cc4bd" stroke="#000" stroke-width="1"/>
<text x="695.00" y="1178.70" font-size="16.7" text-anchor="middle" fill="#0a0a0a">61</text>
<rect x="699.50" y="993.50" width="9.00" height="165.00" fill="#8a9e9b" stroke="#000" stroke-width="1"/>
<rect x="708.50" y="1014.50" width="9.00" height="144.00" fill="#4a4e4e" stroke="#000" stroke-width="1"/>
<rect x="717.50" y="1025.50" width="9.00" height="133.00" fill="#08a1a1" stroke="#000" stroke-width="1"/>
<rect x="726.50" y="1035.50" width="9.00" height="123.00" fill="#3a6c6d" stroke="#000" stroke-width="1"/>
<text x="731.00" y="1178.70" font-size="16.7" text-anchor="middle" fill="#0a0a0a">65</text>
<rect x="735.50" y="1037.50" width="9.00" height="121.00" fill="#057e88" stroke="#000" stroke-width="1"/>
<rect x="744.50" y="1043.50" width="9.00" height="115.00" fill="#0c8b9a" stroke="#000" stroke-width="1"/>
<rect x="753.50" y="1025.50" width="9.00" height="133.00" fill="#6da3b1" stroke="#000" stroke-width="1"/>
<rect x="762.50" y="1008.50" width="9.00" height="150.00" fill="#687e89" stroke="#000" stroke-width="1"/>
<text x="767.00" y="1178.70" font-size="16.7" text-anchor="middle" fill="#0a0a0a">69</text>
<rect x="771.50" y="1045.50" width="9.00" height="113.00" fill="#72b6d6" stroke="#000" stroke-width="1"/>
<rect x="780.50" y="1056.50" width="9.00" height="102.00" fill="#1d5672" stroke="#000" stroke-width="1"/>
<rect x="789.50" y="996.50" width="9.00" height="162.00" fill="#a9b9bf" stroke="#000" stroke-width="1"/>
<rect x="798.50" y="1064.50" width="9.00" height="94.00" fill="#2a93c3" stroke="#000" stroke-width="1"/>
<text x="803.00" y="1178.70" font-size="16.7" text-anchor="middle" fill="#0a0a0a">73</text>
<rect x="807.50" y="977.50" width="9.00" height="181.00" fill="#414244" stroke="#000" stroke-width="1"/>
<rect x="816.50" y="1058.50" width="9.00" height="100.00" fill="#1f5475" stroke="#000" stroke-width="1"/>
<rect x="825.50" y="1060.50" width="9.00" height="98.00" fill="#2279b8" stroke="#000" stroke-width="1"/>
<rect x="834.50" y="1028.50" width="9.00" height="130.00" fill="#456d93" stroke="#000" stroke-width="1"/>
<text x="839.00" y="1178.70" font-size="16.7" text-anchor="middle" fill="#0a0a0a">77</text>
<rect x="843.50" y="1056.50" width="9.00" height="102.00" fill="#2d6fb3" stroke="#000" stroke-width="1"/>
<rect x="852.50" y="1004.50" width="9.00" height="154.00" fill="#98b0d8" stroke="#000" stroke-width="1"/>
<rect x="861.50" y="1011.50" width="9.00" height="147.00" fill="#8c99cf" stroke="#000" stroke-width="1"/>
<rect x="870.50" y="1008.50" width="9.00" height="150.00" fill="#5b62a5" stroke="#000" stroke-width="1"/>
<text x="875.00" y="1178.70" font-size="16.7" text-anchor="middle" fill="#0a0a0a">81</text>
<rect x="879.50" y="986.50" width="9.00" height="172.00" fill="#d0d4e8" stroke="#000" stroke-width="1"/>
<rect x="888.50" y="989.50" width="9.00" height="169.00" fill="#a6a7cc" stroke="#000" stroke-width="1"/>
<rect x="897.50" y="991.50" width="9.00" height="167.00" fill="#3d3d49" stroke="#000" stroke-width="1"/>
<rect x="906.50" y="1002.50" width="9.00" height="156.00" fill="#5d5a73" stroke="#000" stroke-width="1"/>
<text x="911.00" y="1178.70" font-size="16.7" text-anchor="middle" fill="#0a0a0a">85</text>
<rect x="915.50" y="1012.50" width="9.00" height="146.00" fill="#9c8fc8" stroke="#000" stroke-width="1"/>
<rect x="924.50" y="1011.50" width="9.00" height="147.00" fill="#664f88" stroke="#000" stroke-width="1"/>
<rect x="933.50" y="1006.50" width="9.00" height="152.00" fill="#a683bd" stroke="#000" stroke-width="1"/>
<rect x="942.50" y="1018.50" width="9.00" height="140.00" fill="#6e4c7e" stroke="#000" stroke-width="1"/>
<text x="947.00" y="1178.70" font-size="16.7" text-anchor="middle" fill="#0a0a0a">89</text>
<rect x="951.50" y="1011.50" width="9.00" height="147.00" fill="#7b4e87" stroke="#000" stroke-width="1"/>
<rect x="960.50" y="1004.50" width="9.00" height="154.00" fill="#c0c0c0" stroke="#000" stroke-width="1"/>
<rect x="969.50" y="1035.50" width="9.00" height="123.00" fill="#8f7896" stroke="#000" stroke-width="1"/>
<rect x="978.50" y="1008.50" width="9.00" height="150.00" fill="#ad95a6" stroke="#000" stroke-width="1"/>
<text x="983.00" y="1178.70" font-size="16.7" text-anchor="middle" fill="#0a0a0a">93</text>
<rect x="987.50" y="1048.50" width="9.00" height="110.00" fill="#7b4a6a" stroke="#000" stroke-width="1"/>
<rect x="996.50" y="1028.50" width="9.00" height="130.00" fill="#c096b0" stroke="#000" stroke-width="1"/>
<rect x="1005.50" y="1011.50" width="9.00" height="147.00" fill="#d9a9c7" stroke="#000" stroke-width="1"/>
<rect x="1014.50" y="998.50" width="9.00" height="160.00" fill="#9b5a87" stroke="#000" stroke-width="1"/>
<text x="1019.00" y="1178.70" font-size="16.7" text-anchor="middle" fill="#0a0a0a">97</text>
<rect x="1023.50" y="1021.50" width="9.00" height="137.00" fill="#cb6a9b" stroke="#000" stroke-width="1"/>
<rect x="1032.50" y="1039.50" width="9.00" height="119.00" fill="#b04f86" stroke="#000" stroke-width="1"/>
<rect x="150.50" y="965.50" width="891.00" height="193.00" fill="none" stroke="#000" stroke-width="1"/>
<line x1="144.50" y1="1158.50" x2="150.50" y2="1158.50" stroke="#000" stroke-width="1"/>
<text x="140.00" y="1163.70" font-size="16.7" text-anchor="end" fill="#0a0a0a">0</text>
<line x1="144.50" y1="1139.50" x2="150.50" y2="1139.50" stroke="#000" stroke-width="1"/>
<text x="140.00" y="1144.40" font-size="16.7" text-anchor="end" fill="#0a0a0a">10</text>
<line x1="144.50" y1="1119.50" x2="150.50" y2="1119.50" stroke="#000" stroke-width="1"/>
<text x="140.00" y="1125.10" font-size="16.7" text-anchor="end" fill="#0a0a0a">20</text>
<line x1="144.50" y1="1100.50" x2="150.50" y2="1100.50" stroke="#000" stroke-width="1"/>
<text x="140.00" y="1105.80" font-size="16.7" text-anchor="end" fill="#0a0a0a">30</text>
<line x1="144.50" y1="1081.50" x2="150.50" y2="1081.50" stroke="#000" stroke-width="1"/>
<text x="140.00" y="1086.50" font-size="16.7" text-anchor="end" fill="#0a0a0a">40</text>
<line x1="144.50" y1="1062.50" x2="150.50" y2="1062.50" stroke="#000" stroke-width="1"/>
<text x="140.00" y="1067.20" font-size="16.7" text-anchor="end" fill="#0a0a0a">50</text>
<line x1="144.50" y1="1042.50" x2="150.50" y2="1042.50" stroke="#000" stroke-width="1"/>
<text x="140.00" y="1047.90" font-size="16.7" text-anchor="end" fill="#0a0a0a">60</text>
<line x1="144.50" y1="1023.50" x2="150.50" y2="1023.50" stroke="#000" stroke-width="1"/>
<text x="140.00" y="1028.60" font-size="16.7" text-anchor="end" fill="#0a0a0a">70</text>
<line x1="144.50" y1="1004.50" x2="150.50" y2="1004.50" stroke="#000" stroke-width="1"/>
<text x="140.00" y="1009.30" font-size="16.7" text-anchor="end" fill="#0a0a0a">80</text>
<line x1="144.50" y1="984.50" x2="150.50" y2="984.50" stroke="#000" stroke-width="1"/>
<text x="140.00" y="990.00" font-size="16.7" text-anchor="end" fill="#0a0a0a">90</text>
<line x1="144.50" y1="965.50" x2="150.50" y2="965.50" stroke="#000" stroke-width="1"/>
<text x="140.00" y="970.70" font-size="16.7" text-anchor="end" fill="#0a0a0a">100</text>
<text transform="translate(99.50,1066.00) rotate(-90)" font-size="16.7" text-anchor="middle" fill="#0a0a0a">Color Sample Fidelity, R<tspan font-size="13" dy="6.3">f,CESi</tspan></text>
<text x="595.00" y="1200.20" font-size="16.7" text-anchor="middle" fill="#0a0a0a">CES Color</text>
</g>
<g id="cvg">
<clipPath id="cvclip"><rect x="80.5" y="457.5" width="488" height="488"/></clipPath>
<g clip-path="url(#cvclip)">
<line x1="306.90" y1="701.35" x2="80.50" y2="701.35" stroke="#222" stroke-width="0.95" stroke-dasharray="6.8 5.3" stroke-opacity="0.66"/>
<line x1="341.90" y1="701.35" x2="568.50" y2="701.35" stroke="#222" stroke-width="0.95" stroke-dasharray="6.8 5.3" stroke-opacity="0.66"/>
<line x1="324.40" y1="683.85" x2="324.40" y2="457.50" stroke="#222" stroke-width="0.95" stroke-dasharray="6.8 5.3" stroke-opacity="0.66"/>
<line x1="324.40" y1="718.85" x2="324.40" y2="945.50" stroke="#222" stroke-width="0.95" stroke-dasharray="6.8 5.3" stroke-opacity="0.66"/>
<line x1="340.57" y1="694.65" x2="546.13" y2="609.51" stroke="#222" stroke-width="0.95" stroke-dasharray="6.8 5.3" stroke-opacity="0.58"/>
<line x1="336.77" y1="688.98" x2="494.11" y2="531.64" stroke="#222" stroke-width="0.95" stroke-dasharray="6.8 5.3" stroke-opacity="0.58"/>
<line x1="331.10" y1="685.18" x2="416.24" y2="479.62" stroke="#222" stroke-width="0.95" stroke-dasharray="6.8 5.3" stroke-opacity="0.58"/>
<line x1="317.70" y1="685.18" x2="232.56" y2="479.62" stroke="#222" stroke-width="0.95" stroke-dasharray="6.8 5.3" stroke-opacity="0.58"/>
<line x1="312.03" y1="688.98" x2="154.69" y2="531.64" stroke="#222" stroke-width="0.95" stroke-dasharray="6.8 5.3" stroke-opacity="0.58"/>
<line x1="308.23" y1="694.65" x2="102.67" y2="609.51" stroke="#222" stroke-width="0.95" stroke-dasharray="6.8 5.3" stroke-opacity="0.58"/>
<line x1="308.23" y1="708.05" x2="102.67" y2="793.19" stroke="#222" stroke-width="0.95" stroke-dasharray="6.8 5.3" stroke-opacity="0.58"/>
<line x1="312.03" y1="713.72" x2="154.69" y2="871.06" stroke="#222" stroke-width="0.95" stroke-dasharray="6.8 5.3" stroke-opacity="0.58"/>
<line x1="317.70" y1="717.52" x2="232.56" y2="923.08" stroke="#222" stroke-width="0.95" stroke-dasharray="6.8 5.3" stroke-opacity="0.58"/>
<line x1="331.10" y1="717.52" x2="416.24" y2="923.08" stroke="#222" stroke-width="0.95" stroke-dasharray="6.8 5.3" stroke-opacity="0.58"/>
<line x1="336.77" y1="713.72" x2="494.11" y2="871.06" stroke="#222" stroke-width="0.95" stroke-dasharray="6.8 5.3" stroke-opacity="0.58"/>
<line x1="340.57" y1="708.05" x2="546.13" y2="793.19" stroke="#222" stroke-width="0.95" stroke-dasharray="6.8 5.3" stroke-opacity="0.58"/>
<polygon points="475.7,677.6 447.2,597.7 392.5,539.4 325.0,505.8 275.0,505.6 221.9,530.0 180.3,589.0 162.3,659.4 171.3,725.2 206.0,810.5 255.7,865.3 310.3,894.7 367.0,902.0 427.9,873.0 461.2,844.0 484.6,768.2" fill="none" stroke="#f00" stroke-width="1.8" stroke-linejoin="round"/>
<circle cx="324.4" cy="701.35" r="145.6" fill="none" stroke="#e6e3e1" stroke-width="1.9"/>
<circle cx="324.4" cy="701.35" r="163.8" fill="none" stroke="#e6e3e1" stroke-width="1.9"/>
<circle cx="324.4" cy="701.35" r="200.2" fill="none" stroke="#e6e3e1" stroke-width="1.9"/>
<circle cx="324.4" cy="701.35" r="218.4" fill="none" stroke="#e6e3e1" stroke-width="1.9"/>
<polygon points="475.7,677.6 447.2,597.7 392.5,539.4 325.0,505.8 275.0,505.6 221.9,530.0 180.3,589.0 162.3,659.4 171.3,725.2 206.0,810.5 255.7,865.3 310.3,894.7 367.0,902.0 427.9,873.0 461.2,844.0 484.6,768.2" fill="none" stroke="#f00" stroke-opacity="0.3" stroke-width="1.6" stroke-linejoin="round"/>
<circle cx="324.4" cy="701.35" r="182" fill="none" stroke="#000" stroke-width="2.2"/>
<line x1="502.62" y1="664.44" x2="475.70" y2="677.60" stroke="#000" stroke-width="1.5" marker-end="url(#ah)"/>
<line x1="473.85" y1="597.48" x2="447.20" y2="597.70" stroke="#000" stroke-width="1.5" marker-end="url(#ah)"/>
<line x1="424.59" y1="549.41" x2="392.50" y2="539.40" stroke="#000" stroke-width="1.5" marker-end="url(#ah)"/>
<line x1="361.31" y1="523.13" x2="325.00" y2="505.80" stroke="#000" stroke-width="1.5" marker-end="url(#ah)"/>
<line x1="297.66" y1="521.33" x2="275.00" y2="505.60" stroke="#000" stroke-width="1.5" marker-end="url(#ah)"/>
<line x1="226.61" y1="547.85" x2="221.90" y2="530.00" stroke="#000" stroke-width="1.5" marker-end="url(#ah)"/>
<line x1="178.10" y1="593.09" x2="180.30" y2="589.00" stroke="#000" stroke-width="1.5" marker-end="url(#ah)"/>
<line x1="144.84" y1="671.62" x2="162.30" y2="659.40" stroke="#000" stroke-width="1.5" marker-end="url(#ah)"/>
<line x1="145.39" y1="734.20" x2="171.30" y2="725.20" stroke="#000" stroke-width="1.5" marker-end="url(#ah)"/>
<line x1="171.25" y1="799.67" x2="206.00" y2="810.50" stroke="#000" stroke-width="1.5" marker-end="url(#ah)"/>
<line x1="217.94" y1="848.96" x2="255.70" y2="865.30" stroke="#000" stroke-width="1.5" marker-end="url(#ah)"/>
<line x1="285.32" y1="879.10" x2="310.30" y2="894.70" stroke="#000" stroke-width="1.5" marker-end="url(#ah)"/>
<line x1="361.62" y1="879.50" x2="367.00" y2="902.00" stroke="#000" stroke-width="1.5" marker-end="url(#ah)"/>
<line x1="429.31" y1="850.07" x2="427.90" y2="873.00" stroke="#000" stroke-width="1.5" marker-end="url(#ah)"/>
<line x1="471.64" y1="808.33" x2="461.20" y2="844.00" stroke="#000" stroke-width="1.5" marker-end="url(#ah)"/>
<line x1="502.02" y1="741.05" x2="484.60" y2="768.20" stroke="#000" stroke-width="1.5" marker-end="url(#ah)"/>
<line x1="317.90" y1="701.35" x2="330.90" y2="701.35" stroke="#222" stroke-width="0.85"/>
<line x1="324.40" y1="694.85" x2="324.40" y2="707.85" stroke="#222" stroke-width="0.85"/>
</g>
<text x="550.20" y="665.30" font-size="24" text-anchor="middle" fill="#0a0a0a">1</text>
<text x="515.80" y="583.40" font-size="24" text-anchor="middle" fill="#0a0a0a">2</text>
<text x="452.30" y="518.20" font-size="24" text-anchor="middle" fill="#0a0a0a">3</text>
<text x="369.00" y="484.40" font-size="24" text-anchor="middle" fill="#0a0a0a">4</text>
<text x="278.00" y="483.40" font-size="24" text-anchor="middle" fill="#0a0a0a">5</text>
<text x="194.60" y="518.20" font-size="24" text-anchor="middle" fill="#0a0a0a">6</text>
<text x="130.00" y="581.30" font-size="24" text-anchor="middle" fill="#0a0a0a">7</text>
<text x="96.30" y="664.60" font-size="24" text-anchor="middle" fill="#0a0a0a">8</text>
<text x="95.60" y="755.60" font-size="24" text-anchor="middle" fill="#0a0a0a">9</text>
<text x="131.50" y="838.60" font-size="24" text-anchor="middle" fill="#0a0a0a">10</text>
<text x="193.70" y="902.60" font-size="24" text-anchor="middle" fill="#0a0a0a">11</text>
<text x="278.00" y="937.90" font-size="24" text-anchor="middle" fill="#0a0a0a">12</text>
<text x="370.00" y="936.90" font-size="24" text-anchor="middle" fill="#0a0a0a">13</text>
<text x="453.30" y="903.60" font-size="24" text-anchor="middle" fill="#0a0a0a">14</text>
<text x="516.90" y="838.90" font-size="24" text-anchor="middle" fill="#0a0a0a">15</text>
<text x="551.30" y="756.60" font-size="24" text-anchor="middle" fill="#0a0a0a">16</text>
<text x="324.50" y="935.00" font-size="16.5" text-anchor="middle" fill="#fff" fill-opacity="0.32">+20%</text>
<text x="324.50" y="843.00" font-size="16.5" text-anchor="middle" fill="#fff" fill-opacity="0.08">-20%</text>
<text x="85.30" y="485.30" font-size="32" font-weight="bold" stroke="#000" stroke-width="0.3" textLength="35.6" lengthAdjust="spacingAndGlyphs" fill="#000">74</text>
<text x="85.60" y="505.00" font-size="25.5" fill="#0a0a0a">R<tspan font-size="18" dy="11" dx="-2">f</tspan></text>
<text x="557.70" y="485.30" font-size="32" text-anchor="end" font-weight="bold" stroke="#000" stroke-width="0.3" textLength="35.6" lengthAdjust="spacingAndGlyphs" fill="#000">95</text>
<text x="526.30" y="505.00" font-size="25.5" fill="#0a0a0a">R<tspan font-size="18" dy="11" dx="-2">g</tspan></text>
<text x="85.60" y="909.50" font-size="25.5" textLength="49.6" lengthAdjust="spacingAndGlyphs" fill="#0a0a0a">CCT</text>
<text x="84.60" y="940.90" font-size="32" font-weight="bold" stroke="#000" stroke-width="0.3" textLength="104.5" lengthAdjust="spacingAndGlyphs" fill="#000">4620 K</text>
<text x="513.60" y="909.50" font-size="25.5" fill="#0a0a0a">D<tspan font-size="18" dy="5" dx="-0.5">uv</tspan></text>
<text x="558.00" y="940.90" font-size="32" text-anchor="end" font-weight="bold" stroke="#000" stroke-width="0.3" textLength="99.3" lengthAdjust="spacingAndGlyphs" fill="#000">0.0087</text>
<rect x="80.50" y="457.50" width="488.00" height="488.00" fill="none" stroke="#000" stroke-width="1"/>
</g>
<g id="bottom">
<rect x="144.00" y="1216.00" width="456.50" height="207.50" fill="#e6e6e6"/>
<text x="90.00" y="1231.00" font-size="17.3" font-weight="bold" stroke="#0a0a0a" stroke-width="0.3" textLength="53.5" lengthAdjust="spacingAndGlyphs" fill="#0a0a0a">Notes:</text>
<text x="154.00" y="1236.00" font-size="16.5" fill="#111">Level 2</text>
<text x="640.50" y="1250.80" font-size="17.5" font-weight="bold" stroke="#0a0a0a" stroke-width="0.3" fill="#0a0a0a">x</text>
<text x="669.00" y="1250.80" font-size="17.5" font-weight="bold" stroke="#0a0a0a" stroke-width="0.3" textLength="54.2" lengthAdjust="spacingAndGlyphs" fill="#0a0a0a">0.3599</text>
<text x="640.50" y="1280.80" font-size="17.5" font-weight="bold" stroke="#0a0a0a" stroke-width="0.3" fill="#0a0a0a">y</text>
<text x="669.00" y="1280.80" font-size="17.5" font-weight="bold" stroke="#0a0a0a" stroke-width="0.3" textLength="54.2" lengthAdjust="spacingAndGlyphs" fill="#0a0a0a">0.3813</text>
<text x="640.50" y="1310.80" font-size="17.5" font-weight="bold" stroke="#0a0a0a" stroke-width="0.3" fill="#0a0a0a">u'</text>
<text x="670.50" y="1310.80" font-size="17.5" font-weight="bold" stroke="#0a0a0a" stroke-width="0.3" textLength="54.2" lengthAdjust="spacingAndGlyphs" fill="#0a0a0a">0.2100</text>
<text x="640.50" y="1340.80" font-size="17.5" font-weight="bold" stroke="#0a0a0a" stroke-width="0.3" fill="#0a0a0a">v'</text>
<text x="669.00" y="1340.80" font-size="17.5" font-weight="bold" stroke="#0a0a0a" stroke-width="0.3" textLength="54.2" lengthAdjust="spacingAndGlyphs" fill="#0a0a0a">0.5006</text>
<rect x="764.50" y="1216.50" width="176.00" height="207.00" fill="#fff" stroke="#000" stroke-width="1"/>
<text x="852.00" y="1246.00" font-size="17.5" text-anchor="middle" font-weight="bold" stroke="#0a0a0a" stroke-width="0.3" textLength="114.2" lengthAdjust="spacingAndGlyphs" fill="#0a0a0a">CIE 13.3-1995</text>
<text x="852.00" y="1277.00" font-size="17.5" text-anchor="middle" font-weight="bold" stroke="#0a0a0a" stroke-width="0.3" fill="#0a0a0a">(CRI)</text>
<text x="825.50" y="1306.00" font-size="17.5" font-weight="bold" stroke="#0a0a0a" stroke-width="0.3" fill="#0a0a0a">R<tspan font-size="12.5" dy="7.5">a</tspan></text>
<text x="860.50" y="1306.00" font-size="17.5" font-weight="bold" stroke="#0a0a0a" stroke-width="0.3" fill="#0a0a0a">71</text>
<text x="822.50" y="1336.00" font-size="17.5" font-weight="bold" stroke="#0a0a0a" stroke-width="0.3" fill="#0a0a0a">R<tspan font-size="12.5" dy="7.5">9</tspan></text>
<text x="856.50" y="1336.00" font-size="17.5" font-weight="bold" stroke="#0a0a0a" stroke-width="0.3" fill="#0a0a0a">-29</text>
<text x="600.00" y="1449.30" font-size="16.9" text-anchor="middle" font-weight="bold" stroke="#0a0a0a" stroke-width="0.3" textLength="387" lengthAdjust="spacingAndGlyphs" fill="#0a0a0a">Colors are for visual orientation purposes only.</text>
</g>
<g id="wm">
<polygon points="824.5,358.3 945,393.5 937.8,462.5 827.5,492.8 716.6,462 706.8,392" fill="none" stroke="#fde3d0" stroke-opacity="0.45" stroke-width="6" stroke-linejoin="round"/>
<g opacity="0.66">
<polygon points="824.5,358.3 945,393.5 937.8,462.5 827.5,492.8 716.6,462 706.8,392" fill="#586e80" stroke="#586e80" stroke-width="2.5" stroke-linejoin="round"/>
<path d="M810,367 h31.7 v4.2 h-9.2 l9.8,15.1 v4.2 h-33 v-4.2 l9.8,-15.1 h-9.1 z M825.8,372.2 l-9.2,14.1 h18.4 z" fill="#f18d55" fill-rule="evenodd"/>
<polygon points="798.3,404.3 817.7,395 809.7,404.7" fill="#f9d369"/><polygon points="822.7,404 825,395 827.7,395 829.7,404" fill="#f9d369"/><polygon points="834.3,395 853.7,404.3 842.3,404.7" fill="#f9d369"/>
<text x="719.8" y="437" font-size="38.5" font-weight="bold" fill="#f18d55" stroke="#f18d55" stroke-width="2.4" stroke-linejoin="miter" textLength="205" lengthAdjust="spacingAndGlyphs">ZEROAIR</text>
<text transform="translate(935.6,438) rotate(-90)" font-size="10.5" font-weight="bold" fill="#f18d55" stroke="#f18d55" stroke-width="0.7" textLength="28.5" lengthAdjust="spacingAndGlyphs">ORG</text>
<polygon points="720.6,444.8 771,444.8 751,466 723.3,456.7" fill="#f9d369"/>
<polygon points="809.4,444.8 845.5,444.8 856,479 827.5,488.5 798,479" fill="#f9d369"/>
<polygon points="884,444.8 934.5,444.8 931,457.5 904,466" fill="#f9d369"/>
</g></g>
</svg></div></body></html>
